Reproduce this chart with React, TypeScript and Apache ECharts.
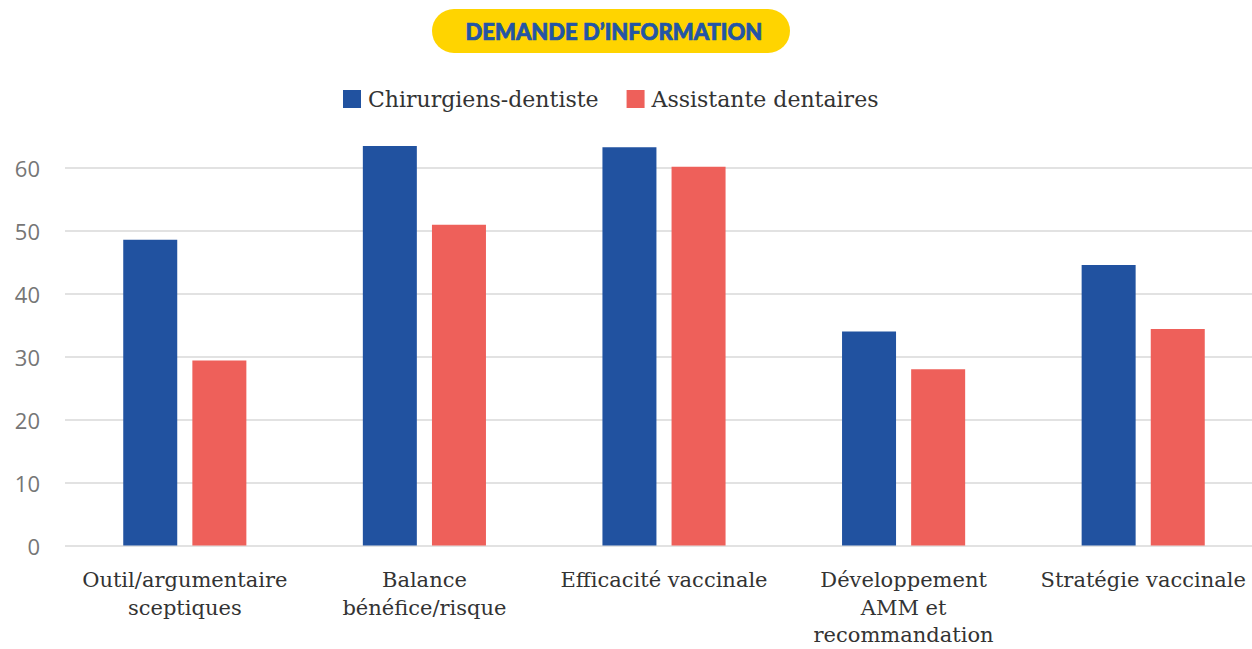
import React, { useEffect, useRef } from "react";
import * as echarts from "echarts";

const categories = [
  "Outil/argumentaire\nsceptiques",
  "Balance\nbénéfice/risque",
  "Efficacité vaccinale",
  "Développement\nAMM et\nrecommandation",
  "Stratégie vaccinale",
];
const seriesNames = ["Chirurgiens-dentiste", "Assistante dentaires"];
const dentistes = [48.6, 63.5, 63.3, 34.0, 44.6];
const assistantes = [29.4, 51.0, 60.2, 28.0, 34.4];
const titleText = "DEMANDE D’INFORMATION";

export default function App() {
  const ref = useRef<HTMLDivElement>(null);
  useEffect(() => {
    if (!ref.current) return;
    const chart = echarts.init(ref.current, undefined, { renderer: "svg" });
    const serif = "'DejaVu Serif', serif";
    chart.setOption({
      animation: false,
      backgroundColor: "#ffffff",
      graphic: [
        {
          type: "rect",
          left: 432,
          top: 9,
          shape: { width: 358, height: 44, r: 22 },
          style: { fill: "#ffd400" },
        },
        {
          type: "text",
          x: 614,
          y: 31,
          style: {
            text: titleText,
            fill: "#2355a5",
            stroke: "#2355a5",
            lineWidth: 0.7,
            font: "900 22px Lato, sans-serif",
            align: "center",
            verticalAlign: "middle",
          },
        },
      ],
      legend: {
        top: 83,
        left: 338,
        itemWidth: 18,
        itemHeight: 18,
        itemGap: 28,
        icon: "rect",
        textStyle: { fontFamily: serif, fontSize: 22, color: "#333333", padding: [0, 0, 0, 2] },
        data: seriesNames,
      },
      grid: { left: 65, right: 0, top: 168, bottom: 91, containLabel: false },
      xAxis: {
        type: "category",
        data: categories,
        axisLine: { show: false },
        axisTick: { show: false },
        axisLabel: {
          interval: 0,
          margin: 21,
          fontFamily: serif,
          fontSize: 21,
          lineHeight: 27.5,
          color: "#333333",
          verticalAlign: "top",
        },
      },
      yAxis: {
        type: "value",
        min: 0,
        max: 60,
        interval: 10,
        axisLine: { show: false },
        axisTick: { show: false },
        axisLabel: {
          margin: 25,
          fontFamily: "'Open Sans', sans-serif",
          fontSize: 22,
          color: "#767676",
        },
        splitLine: { lineStyle: { color: "#d9d9d9", width: 1.5 } },
      },
      series: [
        {
          name: seriesNames[0],
          type: "bar",
          data: dentistes,
          barWidth: 54,
          barGap: "28%",
          clip: false,
          itemStyle: { color: "#2152a0" },
        },
        {
          name: seriesNames[1],
          type: "bar",
          data: assistantes,
          barWidth: 54,
          barGap: "28%",
          clip: false,
          itemStyle: { color: "#ee605a" },
        },
      ],
    });
    return () => chart.dispose();
  }, []);
  return (
    <div
      style={{
        position: "fixed",
        left: 0,
        top: 0,
        width: 1252,
        height: 649,
        overflow: "hidden",
        background: "#ffffff",
      }}
    >
      <div ref={ref} style={{ width: 1263, height: 649 }} />
    </div>
  );
}
